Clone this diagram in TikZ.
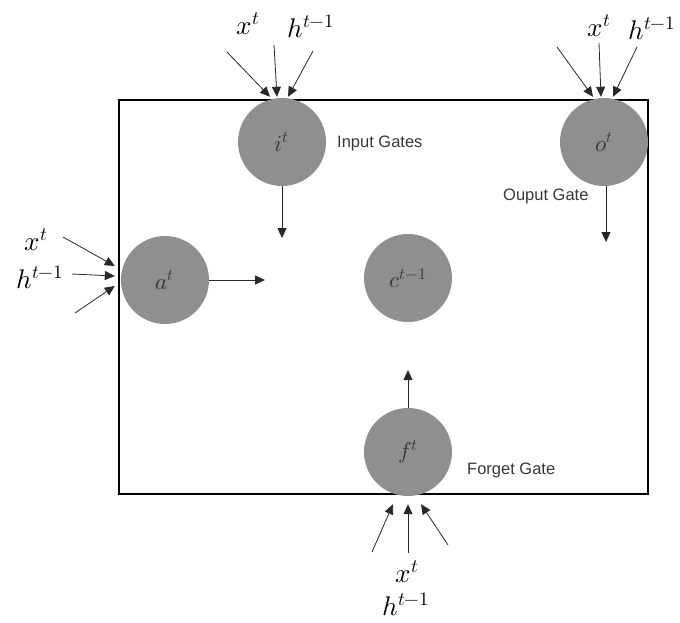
\documentclass[tikz,border=0pt]{standalone}
\usepackage{fontspec}
\usepackage{unicode-math}
\setmathfont{Latin Modern Math}
\setsansfont{Liberation Sans}
\usetikzlibrary{arrows.meta,calc}
\definecolor{gatefill}{RGB}{143,143,143}
\definecolor{gatetext}{RGB}{55,55,55}
\definecolor{linecol}{RGB}{40,40,40}
\begin{document}
\begin{tikzpicture}[x=1pt,y=-1pt,
  gate/.style={circle,fill=gatefill,minimum size=88pt,inner sep=0pt,text=gatetext,font=\fontsize{23}{27}\selectfont},
  lab/.style={inner sep=0pt,font=\fontsize{27}{31}\selectfont},
  note/.style={inner sep=0pt,text=gatetext,font=\sffamily\fontsize{16.5}{19}\selectfont},
  arr/.style={draw=linecol,line width=0.8pt,-{Triangle[length=10pt,width=9pt]}}]
\useasboundingbox (0,0) rectangle (680,623);
\draw[line width=1.6pt] (119,100) rectangle (648,494);
% gates
\node[gate] (i) at (282,142) {$i^t$};
\node[gate] (o) at (604,142) {$o^t$};
\node[gate] (a) at (165,280) {$a^t$};
\node[gate] (c) at (408,278) {$c^{t-1}$};
\node[gate] (f) at (408,452) {$f^t$};
% notes
\node[note,anchor=west] (ni) at (337,143) {Input Gates};
\node[note,anchor=west] (no) at (503,196) {Ouput Gate};
\node[note,anchor=west] (nf) at (467,470) {Forget Gate};
% input labels
\node[lab] (ix) at (248,24) {$x^t$};
\node[lab] (ih) at (311,26) {$h^{t-1}$};
\node[lab] (ox) at (599,26) {$x^t$};
\node[lab] (oh) at (652,28) {$h^{t-1}$};
\node[lab] (ax) at (36,240) {$x^t$};
\node[lab] (ah) at (40,277) {$h^{t-1}$};
\node[lab] (fx) at (407,572) {$x^t$};
\node[lab] (fh) at (406,604) {$h^{t-1}$};
% free ends
\coordinate (i1) at (227,52);
\coordinate (i2) at (274,45);
\coordinate (i3) at (313,51);
\coordinate (o1) at (557,47);
\coordinate (o2) at (599,43);
\coordinate (o3) at (637,47);
\coordinate (a1) at (63,237);
\coordinate (a2) at (72,274);
\coordinate (a3) at (75,313);
\coordinate (f1) at (372,552);
\coordinate (f2) at (408,553);
\coordinate (f3) at (448,545);
\coordinate (iout) at (282,238);
\coordinate (oout) at (606,242);
\coordinate (aout) at (265,280);
\coordinate (fout) at (408,370);
% input arrows
\draw[arr] (i1) -- ($(i.north)+(-12,-1)$);
\draw[arr] (i2) -- ($(i.north)+(-5,-1)$);
\draw[arr] (i3) -- ($(i.north)+(6,-1)$);
\draw[arr] (o1) -- ($(o.north)+(-11,-1)$);
\draw[arr] (o2) -- ($(o.north)+(-3,-1)$);
\draw[arr] (o3) -- ($(o.north)+(9,-1)$);
\draw[arr] (a1) -- ($(a.west)+(-6,-14)$);
\draw[arr] (a2) -- ($(a.west)+(-6,-4)$);
\draw[arr] (a3) -- ($(a.west)+(-6,6)$);
\draw[arr] (f1) -- ($(f.south)+(-15,8)$);
\draw[arr] (f2) -- ($(f.south)+(0,8)$);
\draw[arr] (f3) -- ($(f.south)+(13,8)$);
% outputs
\draw[arr] (i.south) -- (iout);
\draw[arr] ($(o.south)+(2,0)$) -- (oout);
\draw[arr] (a.east) -- (aout);
\draw[arr] (f.north) -- (fout);
\end{tikzpicture}
\end{document}
